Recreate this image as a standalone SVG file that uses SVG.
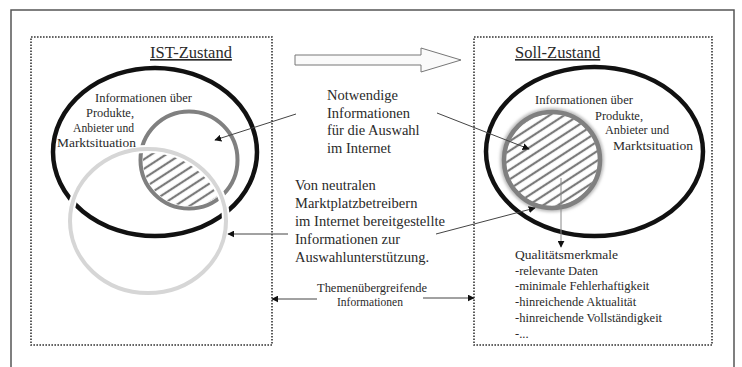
<svg xmlns="http://www.w3.org/2000/svg" width="742" height="367" viewBox="0 0 742 367">
<style>
text{font-family:'Liberation Serif','DejaVu Serif',serif;fill:#2a2a2a}
.s125{font-size:12.5px}
.s13{font-size:13px}
.s14{font-size:14.5px}
.title{font-size:16.5px;text-decoration:underline}
.box{fill:none;stroke:#333;stroke-width:1.6;stroke-dasharray:1.6 1.4}
.ln{fill:none;stroke:#444;stroke-width:1}
</style>
<defs>
<pattern id="hatch" patternUnits="userSpaceOnUse" width="8" height="8" patternTransform="rotate(-33)">
<rect width="8" height="8" fill="#fff"/>
<line x1="0" y1="4" x2="8" y2="4" stroke="#7a7a7a" stroke-width="2.2"/>
</pattern>
<clipPath id="clipL"><ellipse cx="148" cy="221" rx="78" ry="72"/></clipPath>
<marker id="ah" viewBox="0 0 10 10" refX="9" refY="5" markerWidth="7" markerHeight="7" orient="auto" markerUnits="userSpaceOnUse"><path d="M0,0 L10,5 L0,10 Z" fill="#111"/></marker>
<filter id="blur" x="-20%" y="-20%" width="140%" height="140%"><feGaussianBlur stdDeviation="1.6"/></filter>
</defs>
<rect x="11" y="10" width="723" height="370" fill="#fff" stroke="#555" stroke-width="1.5"/>

<g id="ist">
<rect class="box" x="31" y="37" width="241" height="308"/>
<text class="title" x="150" y="58" font-family="Liberation Serif">IST-Zustand</text>
<ellipse cx="155" cy="152" rx="102" ry="84" fill="none" stroke="#111" stroke-width="4.5"/>
<circle cx="189" cy="160" r="48.5" fill="none" stroke="#808080" stroke-width="4"/>
<circle cx="189" cy="160" r="46" fill="url(#hatch)" clip-path="url(#clipL)"/>
<ellipse cx="148" cy="221" rx="78" ry="72" fill="none" stroke="#fff" stroke-width="8"/>
<ellipse cx="148" cy="221" rx="78" ry="72" fill="none" stroke="#d6d6d6" stroke-width="4"/>
<text class="s13" font-family="Liberation Serif"><tspan x="95" y="102" textLength="97" lengthAdjust="spacingAndGlyphs">Informationen über</tspan><tspan x="86" y="117" textLength="48" lengthAdjust="spacingAndGlyphs">Produkte,</tspan><tspan x="73" y="132" textLength="61" lengthAdjust="spacingAndGlyphs">Anbieter und</tspan><tspan x="57" y="147" textLength="79" lengthAdjust="spacingAndGlyphs">Marktsituation</tspan></text>
</g>

<g id="soll">
<rect class="box" x="474" y="37" width="238" height="308"/>
<text class="title" x="515" y="58" font-family="Liberation Serif">Soll-Zustand</text>
<ellipse cx="594.5" cy="151.5" rx="108.5" ry="84.5" fill="none" stroke="#111" stroke-width="4.5"/>
<circle cx="552" cy="160" r="48" fill="none" stroke="#bbb" stroke-width="8" filter="url(#blur)"/>
<circle cx="552" cy="160" r="46" fill="url(#hatch)"/>
<circle cx="552" cy="160" r="48" fill="none" stroke="#808080" stroke-width="4.5"/>
<text class="s13" font-family="Liberation Serif"><tspan x="535" y="104" textLength="98" lengthAdjust="spacingAndGlyphs">Informationen über</tspan><tspan x="595" y="120" textLength="48" lengthAdjust="spacingAndGlyphs">Produkte,</tspan><tspan x="605" y="134" textLength="64" lengthAdjust="spacingAndGlyphs">Anbieter und</tspan><tspan x="613" y="150" textLength="80" lengthAdjust="spacingAndGlyphs">Marktsituation</tspan></text>
</g>

<g id="transition">
<polygon points="295,55 421,55 421,48 461,60 421,72 421,65 295,65" fill="#fafafa" stroke="#777" stroke-width="1"/>
</g>

<g id="notwendig">
<text class="s14" font-family="Liberation Serif"><tspan x="327" y="100">Notwendige</tspan><tspan x="327" y="118">Informationen</tspan><tspan x="327" y="135">für die Auswahl</tspan><tspan x="327" y="153">im Internet</tspan></text>
</g>

<g id="neutral">
<text class="s14" font-family="Liberation Serif"><tspan x="295" y="190">Von neutralen</tspan><tspan x="295" y="208">Marktplatzbetreibern</tspan><tspan x="295" y="226" textLength="150" lengthAdjust="spacingAndGlyphs">im Internet bereitgestellte</tspan><tspan x="295" y="244">Informationen zur</tspan><tspan x="295" y="262">Auswahlunterstützung.</tspan></text>
</g>

<g id="themen">
<text class="s125" font-family="Liberation Serif"><tspan x="317" y="292" textLength="110" lengthAdjust="spacingAndGlyphs">Themenübergreifende</tspan><tspan x="337" y="306" textLength="66" lengthAdjust="spacingAndGlyphs">Informationen</tspan></text>
</g>

<g id="qualitaet">
<text class="s125" font-family="Liberation Serif"><tspan x="515" y="259" textLength="103" lengthAdjust="spacingAndGlyphs">Qualitätsmerkmale</tspan><tspan x="515" y="275">-relevante Daten</tspan><tspan x="515" y="290">-minimale Fehlerhaftigkeit</tspan><tspan x="515" y="306">-hinreichende Aktualität</tspan><tspan x="515" y="322">-hinreichende Vollständigkeit</tspan><tspan x="515" y="338">-...</tspan></text>
</g>

<g id="connectors">
<line class="ln" x1="296" y1="114" x2="215" y2="140" marker-end="url(#ah)"/>
<line class="ln" x1="437" y1="113" x2="529" y2="149" marker-end="url(#ah)"/>
<line class="ln" x1="288" y1="234" x2="228" y2="234" marker-end="url(#ah)"/>
<line class="ln" x1="436" y1="234" x2="535" y2="208" marker-end="url(#ah)"/>
<line class="ln" x1="317" y1="299" x2="272" y2="299" marker-end="url(#ah)"/>
<line class="ln" x1="423" y1="298" x2="474" y2="298" marker-end="url(#ah)"/>
<line x1="561" y1="178" x2="561" y2="247" stroke="#888" stroke-width="1" marker-end="url(#ah)"/>
</g>
</svg>
